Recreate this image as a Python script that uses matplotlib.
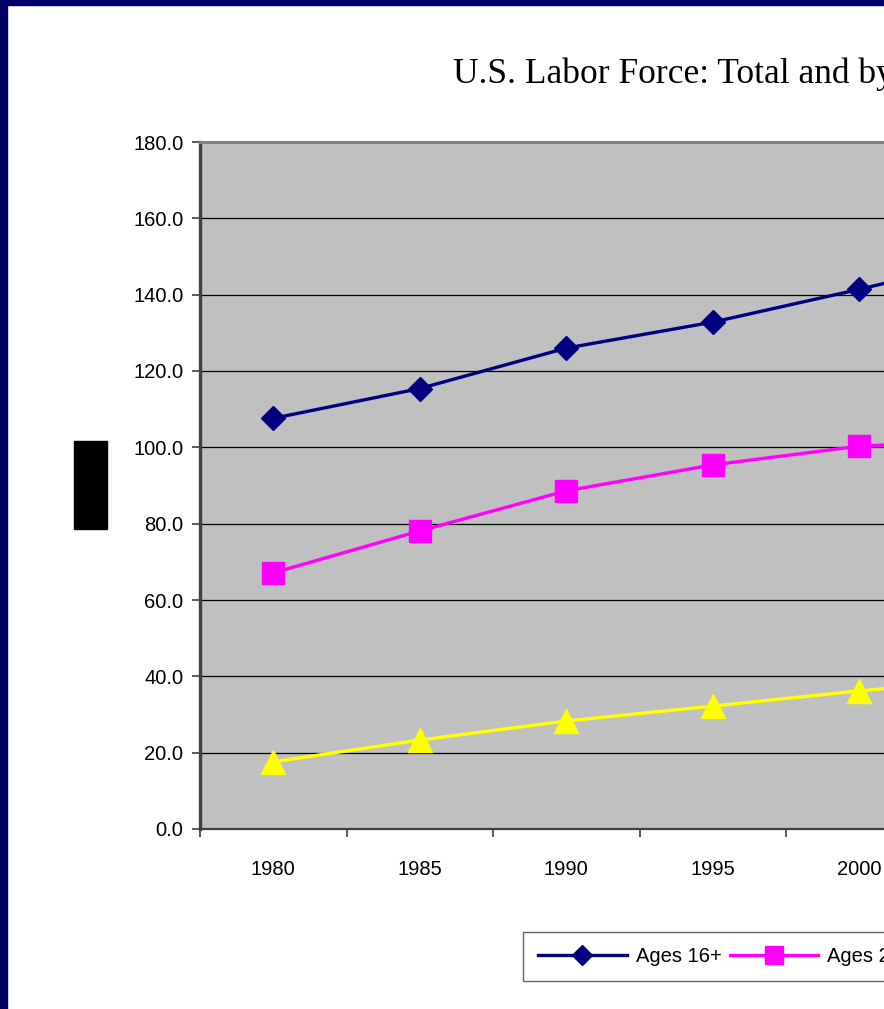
import matplotlib
matplotlib.use("Agg")
import matplotlib.pyplot as plt
from matplotlib.patches import Rectangle

years = ["1980", "1985", "1990", "1995", "2000", "2005"]
ages_16_plus = [107.6, 115.4, 126.0, 132.8, 141.4, 150.5]
ages_25_54 = [67.1, 78.1, 88.6, 95.4, 100.3, 102.0]
ages_55_plus = [17.6, 23.3, 28.3, 32.2, 36.2, 39.5]
series_labels = ["Ages 16+", "Ages 25-54", "Ages 55+"]
yticks = [0, 20, 40, 60, 80, 100, 120, 140, 160, 180]
title = "U.S. Labor Force: Total and by Age Group"

W, H = 884, 1009
fig = plt.figure(figsize=(W / 100, H / 100), dpi=100)
fig.patch.set_facecolor("white")

# navy frame (left and top visible)
fig.patches.append(Rectangle((0, 0), 7 / W, 1, transform=fig.transFigure,
                             color="#000066", zorder=10))
fig.patches.append(Rectangle((0, 1 - 5 / H), 1, 5 / H, transform=fig.transFigure,
                             color="#000066", zorder=10))

# axes: left 200px, top 142px, bottom 829px; category width 146.5px
left_px, top_px, bot_px = 200, 142, 829
cat_w = 146.5
n = len(years)
ax = fig.add_axes([left_px / W, (H - bot_px) / H, n * cat_w / W, (bot_px - top_px) / H])
ax.set_facecolor("#C0C0C0")

x = list(range(n))
ax.plot(x, ages_16_plus, color="#000080", lw=2.4, marker="D", markersize=12.5,
        markeredgecolor="#000080", label=series_labels[0], zorder=3, clip_on=False)
ax.plot(x, ages_25_54, color="#FF00FF", lw=2.4, marker="s", markersize=15.5,
        markeredgecolor="#FF00FF", label=series_labels[1], zorder=3, clip_on=False)
ax.plot(x, ages_55_plus, color="#FFFF00", lw=2.4, marker="^", markersize=17.5,
        markeredgecolor="#FFFF00", label=series_labels[2], zorder=3, clip_on=False)

ax.set_xlim(-0.5, n - 0.5)
ax.set_ylim(0, 180)
ax.set_yticks(yticks)
ax.set_yticklabels([f"{v:.1f}" for v in yticks], fontfamily="Liberation Sans", fontsize=14.5)
ax.yaxis.grid(True, color="black", lw=0.9)
ax.set_axisbelow(True)

ax.set_xticks([i - 0.5 for i in range(n + 1)])
ax.set_xticklabels([])
ax.set_xticks(x, minor=True)
ax.set_xticklabels(years, minor=True, fontfamily="Liberation Sans", fontsize=14.5)
ax.tick_params(axis="x", which="minor", length=0, pad=22)
ax.tick_params(axis="x", which="major", length=6, width=1.2, color="#404040", direction="out")
ax.tick_params(axis="y", length=6, width=1.2, color="#404040", direction="out", pad=6)

ax.spines["left"].set_color("#404040")
ax.spines["left"].set_linewidth(2.4)
ax.spines["top"].set_color("#808080")
ax.spines["top"].set_linewidth(2.2)
ax.spines["bottom"].set_color("#404040")
ax.spines["bottom"].set_linewidth(1.6)
ax.spines["right"].set_visible(False)

# redacted y-axis label block
fig.patches.append(Rectangle((74 / W, (H - 529) / H), 33 / W, 88 / H,
                             transform=fig.transFigure, color="black", zorder=5))

# title
fig.text(453 / W, (H - 83) / H, title, fontfamily="Liberation Serif", fontsize=25.5,
         ha="left", va="baseline")

# legend
handles, labels = ax.get_legend_handles_labels()
leg = fig.legend(handles, labels, loc="upper left",
                 bbox_to_anchor=(523 / W, (H - 932) / H), ncol=3,
                 prop={"family": "Liberation Sans", "size": 14.5},
                 frameon=True, fancybox=False, shadow=False, borderaxespad=0,
                 handlelength=4.4, handletextpad=0.45, columnspacing=0.4,
                 borderpad=0.75, markerscale=0.85)
leg.get_frame().set_edgecolor("#404040")
leg.get_frame().set_linewidth(1.0)

fig.savefig("out.png", dpi=100, facecolor=fig.get_facecolor())
